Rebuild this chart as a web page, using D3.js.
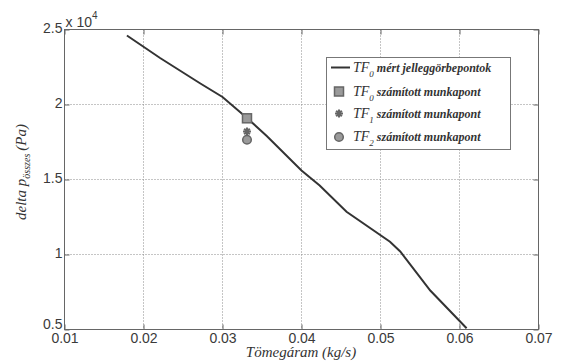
<!DOCTYPE html>
<html><head><meta charset="utf-8">
<script src="https://cdn.jsdelivr.net/npm/d3@7"></script>
<style>body{margin:0;background:#fff}svg{display:block}</style>
</head><body>
<svg id="c" width="566" height="364"></svg>
<script>
// Data
const curveX = [0.0179, 0.0221, 0.0272, 0.0300, 0.0331, 0.0356, 0.0400, 0.0423, 0.0457, 0.0512, 0.0525, 0.0563, 0.0609];
const curveY = [24600, 23100, 21400, 20500, 19100, 17900, 15600, 14600, 12850, 10850, 10200, 7600, 5080];
const pointX = [0.0331, 0.0331, 0.0331];
const pointY = [19080, 18200, 17650];
const pointSymbols = ["square", "star", "circle"];
const legendSubs = ["0", "0", "1", "2"];
const legendTexts = ["mért jelleggörbepontok", "számított munkapont", "számított munkapont", "számított munkapont"];
const xTicks = [0.01, 0.02, 0.03, 0.04, 0.05, 0.06, 0.07];
const yTicks = [5000, 10000, 15000, 20000, 25000];

const svg = d3.select("#c");
const L = 64.5, R = 538.5, T = 29.5, B = 329.5;
const x = d3.scaleLinear().domain([0.01, 0.07]).range([L, R]);
const y = d3.scaleLinear().domain([5000, 25000]).range([B, T]);
const axisCol = "#666", textCol = "#3a3a3a";

// grid
const g = svg.append("g");
g.selectAll("line.gx").data(xTicks.slice(1, -1)).join("line").attr("class", "gx")
  .attr("x1", d => x(d)).attr("x2", d => x(d)).attr("y1", T).attr("y2", B)
  .attr("stroke", "#8a8a8a").attr("stroke-width", 1).attr("stroke-dasharray", "1,2");
g.selectAll("line.gy").data(yTicks.slice(1, -1)).join("line").attr("class", "gy")
  .attr("y1", d => y(d)).attr("y2", d => y(d)).attr("x1", L).attr("x2", R)
  .attr("stroke", "#8a8a8a").attr("stroke-width", 1).attr("stroke-dasharray", "1,2");

// axes with inward ticks
const xAxisB = d3.axisBottom(x).tickValues(xTicks).tickSize(-5).tickFormat(d3.format(".2f"));
const xAxisT = d3.axisTop(x).tickValues(xTicks).tickSize(-5).tickFormat("");
const yAxisL = d3.axisLeft(y).tickValues(yTicks).tickSize(-5).tickFormat(d => d3.format(".1f")(d / 10000).replace(/\.0$/, ""));
const yAxisR = d3.axisRight(y).tickValues(yTicks).tickSize(-5).tickFormat("");

function style(sel) {
  sel.select(".domain").attr("stroke", axisCol).attr("stroke-width", 1);
  sel.selectAll(".tick line").attr("stroke", axisCol);
  sel.selectAll("text").attr("fill", textCol).attr("font-family", "Liberation Sans, Arial, sans-serif").attr("font-size", 14);
}
const gxB = svg.append("g").attr("transform", `translate(0,${B})`).call(xAxisB).call(style);
gxB.selectAll("text").attr("dy", null).attr("y", 13);
svg.append("g").attr("transform", `translate(0,${T})`).call(xAxisT).call(style);
const gyL = svg.append("g").attr("transform", `translate(${L},0)`).call(yAxisL).call(style);
gyL.selectAll("text").attr("x", -2).attr("dy", "0.22em");
gyL.selectAll(".tick").filter(d => d === 5000).select("text").attr("dy", "-0.05em");
svg.append("g").attr("transform", `translate(${R},0)`).call(yAxisR).call(style);
svg.selectAll(".domain").attr("d", null);
svg.append("rect").attr("x", L).attr("y", T).attr("width", R - L).attr("height", B - T)
  .attr("fill", "none").attr("stroke", axisCol).attr("stroke-width", 1);

// exponent label
const ex = svg.append("text").attr("x", L + 1).attr("y", 27).attr("fill", textCol)
  .attr("font-family", "Liberation Sans, Arial, sans-serif").attr("font-size", 14);
ex.append("tspan").text("x 10");
ex.append("tspan").attr("font-size", 10).attr("dy", -8).text("4");

// curve
const pts = curveX.map((d, i) => [d, curveY[i]]);
svg.append("path").datum(pts)
  .attr("d", d3.line().x(d => x(d[0])).y(d => y(d[1])))
  .attr("fill", "none").attr("stroke", "#333").attr("stroke-width", 2);

// markers
const symFill = "#9a9a9a", symStroke = "#666";
function drawSym(sel, type, cx, cy) {
  if (type === "square") {
    sel.append("rect").attr("x", cx - 4.5).attr("y", cy - 4.5).attr("width", 9).attr("height", 9)
      .attr("fill", symFill).attr("stroke", symStroke).attr("stroke-width", 1.5);
  } else if (type === "star") {
    const gg = sel.append("g").attr("stroke", "#666").attr("stroke-width", 2);
    for (let a = 0; a < 4; a++) {
      const ang = a * Math.PI / 4;
      gg.append("line").attr("x1", cx - 4 * Math.cos(ang)).attr("y1", cy - 4 * Math.sin(ang))
        .attr("x2", cx + 4 * Math.cos(ang)).attr("y2", cy + 4 * Math.sin(ang));
    }
  } else {
    sel.append("circle").attr("cx", cx).attr("cy", cy).attr("r", 4.3)
      .attr("fill", symFill).attr("stroke", symStroke).attr("stroke-width", 1.5);
  }
}
pointX.forEach((d, i) => drawSym(svg, pointSymbols[i], x(d), y(pointY[i])));

// legend
const lg = svg.append("g");
lg.append("rect").attr("x", 326.5).attr("y", 57.5).attr("width", 184).attr("height", 92)
  .attr("fill", "#fff").attr("stroke", "#777").attr("stroke-width", 1);
const rowY = [67.5, 91.5, 113.5, 137];
legendTexts.forEach((t, i) => {
  const cy = rowY[i];
  if (i === 0) {
    lg.append("line").attr("x1", 331).attr("x2", 350).attr("y1", cy).attr("y2", cy)
      .attr("stroke", "#333").attr("stroke-width", 2);
  } else {
    drawSym(lg, pointSymbols[i - 1], 339, cy);
  }
  const tx = lg.append("text").attr("x", 353).attr("y", cy + 4).attr("fill", "#333")
    .attr("font-family", "Liberation Serif, Times New Roman, serif").attr("font-style", "italic");
  tx.append("tspan").attr("font-size", 14).text("TF");
  tx.append("tspan").attr("font-size", 9).attr("dy", 5).text(legendSubs[i]);
  tx.append("tspan").attr("font-size", 12).attr("font-weight", "bold").attr("dy", -5).attr("dx", 3).text(t);
});

// axis titles
svg.append("text").attr("x", 301).attr("y", 357).attr("text-anchor", "middle")
  .attr("font-family", "Liberation Serif, Times New Roman, serif").attr("font-style", "italic")
  .attr("font-size", 15).attr("fill", "#333").text("Tömegáram (kg/s)");
const yl = svg.append("text").attr("transform", "translate(26,172) rotate(-90)").attr("text-anchor", "middle")
  .attr("font-family", "Liberation Serif, Times New Roman, serif").attr("font-style", "italic")
  .attr("font-size", 15).attr("fill", "#333");
yl.append("tspan").text("delta p");
yl.append("tspan").attr("font-size", 10).attr("dy", 4).text("összes");
yl.append("tspan").attr("dy", -4).attr("dx", 3).text("(Pa)");
</script>
</body></html>
